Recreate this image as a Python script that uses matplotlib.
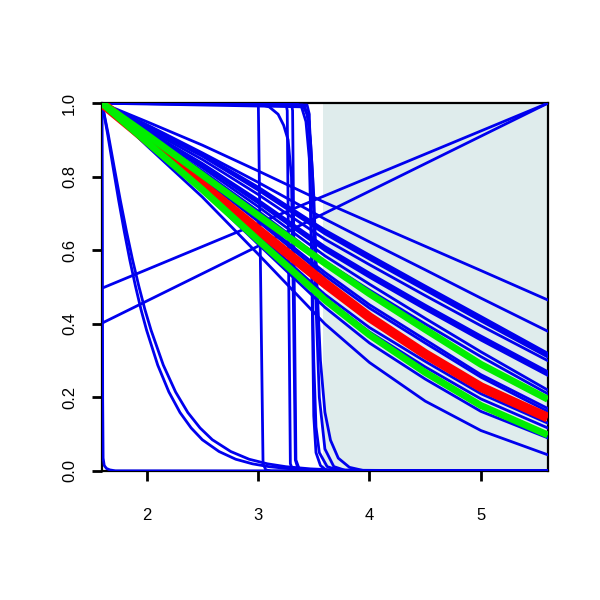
# * Survival-type curves with shaded region, R base graphics look

import matplotlib
matplotlib.use('Agg')
import matplotlib.pyplot as plt

# * Common x grid for the smooth decreasing curves
x_grid = [1.6, 2.0, 2.5, 3.0, 3.6, 4.0, 4.5, 5.0, 5.6]

# * Blue fan curves (values on x_grid)
blue_fan = [
    [1, 0.950, 0.886, 0.816, 0.730, 0.677, 0.611, 0.545, 0.465],
    [1, 0.942, 0.865, 0.785, 0.685, 0.623, 0.547, 0.470, 0.380],
    [1, 0.938, 0.861, 0.772, 0.655, 0.587, 0.503, 0.420, 0.320],
    [1, 0.936, 0.858, 0.768, 0.650, 0.581, 0.497, 0.414, 0.315],
    [1, 0.935, 0.856, 0.764, 0.645, 0.576, 0.492, 0.408, 0.310],
    [1, 0.931, 0.847, 0.752, 0.630, 0.561, 0.477, 0.395, 0.300],
    [1, 0.926, 0.836, 0.737, 0.610, 0.538, 0.451, 0.367, 0.270],
    [1, 0.925, 0.834, 0.733, 0.605, 0.532, 0.445, 0.361, 0.265],
    [1, 0.923, 0.831, 0.729, 0.600, 0.527, 0.440, 0.356, 0.260],
    [1, 0.921, 0.825, 0.719, 0.585, 0.508, 0.415, 0.324, 0.220],
    [1, 0.916, 0.816, 0.707, 0.570, 0.492, 0.400, 0.311, 0.210],
    [1, 0.912, 0.800, 0.685, 0.540, 0.452, 0.357, 0.262, 0.170],
    [1, 0.910, 0.796, 0.679, 0.531, 0.443, 0.348, 0.255, 0.162],
    [1, 0.900, 0.775, 0.642, 0.480, 0.390, 0.298, 0.210, 0.130],
    [1, 0.898, 0.770, 0.635, 0.470, 0.378, 0.283, 0.196, 0.117],
    [1, 0.893, 0.762, 0.617, 0.445, 0.348, 0.250, 0.162, 0.090],
    [1, 0.885, 0.745, 0.590, 0.400, 0.295, 0.190, 0.110, 0.044],
]

# * Highlighted curves
green_curves = [
    [1, 0.915, 0.805, 0.695, 0.565, 0.482, 0.385, 0.290, 0.195],
    [1, 0.895, 0.765, 0.628, 0.465, 0.370, 0.268, 0.178, 0.098],
]
red_curve = [1, 0.900, 0.778, 0.656, 0.510, 0.418, 0.318, 0.228, 0.145]

# * Two rising lines
rise_x = [1.6, 5.6]
rise_lines = [[0.497, 1.0], [0.402, 1.0]]

# * Steep drop curves, each as (x values, y values)
steep_curves = [
    ([1.6, 1.603, 1.606, 1.61, 1.62, 1.64, 1.67, 1.72, 5.6],
     [1, 0.7, 0.2, 0.035, 0.015, 0.007, 0.003, 0.0005, 0]),
    ([1.6, 1.65, 1.7, 1.75, 1.8, 1.85, 1.9, 1.95, 2.0, 2.1, 2.2, 2.3, 2.4, 2.5,
      2.65, 2.8, 2.95, 3.1, 3.3, 3.5, 3.8, 5.6],
     [1, 0.917, 0.825, 0.735, 0.651, 0.573, 0.503, 0.439, 0.383, 0.288, 0.215, 0.159,
      0.117, 0.085, 0.053, 0.032, 0.0195, 0.0117, 0.0058, 0.0029, 0.001, 0]),
    ([1.6, 1.655, 1.71, 1.765, 1.82, 1.875, 1.93, 1.985, 2.04, 2.15, 2.26, 2.37, 2.48,
      2.59, 2.755, 2.92, 3.085, 3.25, 3.47, 3.69, 4.02, 5.6],
     [1, 0.917, 0.825, 0.735, 0.651, 0.573, 0.503, 0.439, 0.383, 0.288, 0.215, 0.159,
      0.117, 0.085, 0.053, 0.032, 0.0195, 0.0117, 0.0058, 0.0029, 0.001, 0]),
    ([1.6, 2.99, 3.003, 3.045, 3.07, 3.12, 5.6],
     [1, 1, 0.99, 0.02, 0.003, 0, 0]),
    ([1.6, 3.0, 3.1, 3.18, 3.23, 3.27, 3.30, 3.32, 3.335, 3.36, 3.45, 5.6],
     [1, 0.998, 0.99, 0.97, 0.94, 0.9, 0.8, 0.4, 0.03, 0.005, 0, 0]),
    ([1.6, 3.25, 3.262, 3.29, 3.31, 3.35, 5.6],
     [1, 1, 0.98, 0.02, 0.003, 0, 0]),
    ([1.6, 3.30, 3.31, 3.34, 3.37, 3.42, 5.6],
     [1, 1, 0.98, 0.03, 0.005, 0, 0]),
    ([1.6, 3.35, 3.39, 3.43, 3.46, 3.48, 3.50, 3.52, 3.55, 3.62, 3.72, 5.6],
     [1, 0.998, 0.99, 0.95, 0.85, 0.6, 0.3, 0.12, 0.05, 0.012, 0.002, 0]),
    ([1.6, 3.44, 3.46, 3.48, 3.50, 3.52, 3.56, 3.62, 5.6],
     [1, 0.995, 0.97, 0.6, 0.15, 0.05, 0.015, 0, 0]),
    ([1.6, 3.40, 3.44, 3.47, 3.50, 3.53, 3.56, 3.60, 3.65, 3.72, 3.82, 3.95, 5.6],
     [1, 0.995, 0.97, 0.9, 0.75, 0.5, 0.3, 0.16, 0.084, 0.035, 0.01, 0.001, 0]),
    ([1.6, 3.42, 3.46, 3.49, 3.52, 3.55, 3.60, 3.68, 3.78, 5.6],
     [1, 0.99, 0.95, 0.8, 0.45, 0.2, 0.06, 0.012, 0.002, 0]),
]

# * Shaded interval
shade_start = 3.58
shade_end = 5.6

x_ticks = [2, 3, 4, 5]
y_ticks = [0.0, 0.2, 0.4, 0.6, 0.8, 1.0]
y_tick_labels = ['0.0', '0.2', '0.4', '0.6', '0.8', '1.0']

plt.rcParams['font.family'] = ['Liberation Sans', 'DejaVu Sans']

fig = plt.figure(figsize=(6, 6), dpi=100)
ax = fig.add_axes([0.17, 0.215, 0.743, 0.613])

ax.axvspan(shade_start, shade_end, color='#DFECEC', zorder=1, lw=0)

# * Blue curves first, highlighted ones on top
for ys in blue_fan:
    ax.plot(x_grid, ys, color='#0000EE', lw=2, zorder=3)
for ys in rise_lines:
    ax.plot(rise_x, ys, color='#0000EE', lw=2, zorder=3)
for xs, ys in steep_curves:
    ax.plot(xs, ys, color='#0000EE', lw=2, zorder=3)

ax.plot(x_grid, red_curve, color='#FF0000', lw=7, zorder=4, solid_capstyle='butt')
for ys in green_curves:
    ax.plot(x_grid, ys, color='#00EE00', lw=5, zorder=5, solid_capstyle='butt')

ax.set_xlim(1.6, 5.6)
ax.set_ylim(0, 1)
ax.set_xticks(x_ticks)
ax.set_xticklabels([str(t) for t in x_ticks])
ax.set_yticks(y_ticks)
ax.set_yticklabels(y_tick_labels, rotation=90, va='center')

for s in ax.spines.values():
    s.set_linewidth(1.6)
    s.set_zorder(2.5)

ax.tick_params(axis='both', direction='out', length=7, width=2, labelsize=12)
ax.tick_params(axis='x', pad=20)
ax.tick_params(axis='y', pad=11)

fig.savefig('out.png', dpi=100)
